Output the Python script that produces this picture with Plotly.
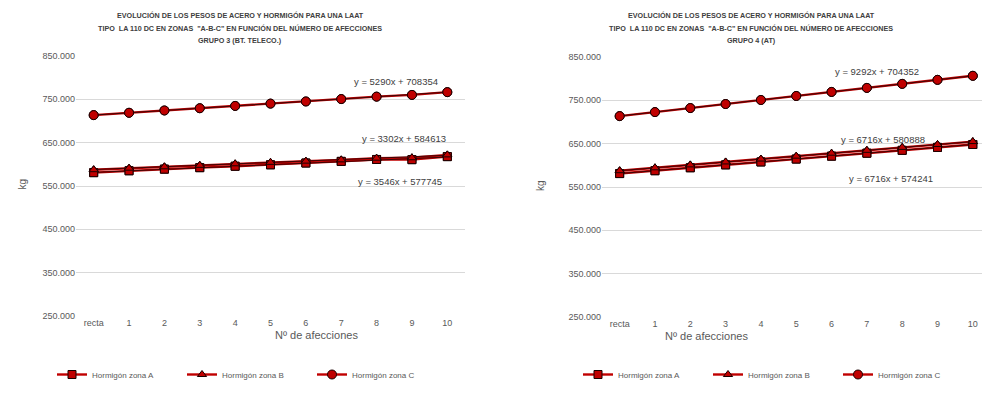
import plotly.graph_objects as go

categories = ["recta", "1", "2", "3", "4", "5", "6", "7", "8", "9", "10"]
y_ticks = [250000, 350000, 450000, 550000, 650000, 750000, 850000]

# Grupo 3 (BT. TELECO.)
g3_zona_a = [580800, 585200, 588900, 592300, 595600, 598900, 603000, 606800, 611200, 610800, 617800]
g3_zona_b = [587600, 591100, 594300, 597700, 601200, 604600, 607400, 610300, 614200, 615200, 621800]
g3_zona_c = [713600, 719000, 724300, 729500, 734800, 740100, 745100, 750600, 756200, 760200, 766600]
# Grupo 4 (AT)
g4_zona_a = [581000, 587600, 594400, 601100, 607800, 614500, 621200, 628000, 634600, 641400, 648100]
g4_zona_b = [587600, 594300, 601000, 607800, 614500, 621200, 628000, 634600, 641400, 648100, 654800]
g4_zona_c = [713600, 722900, 732200, 741500, 750800, 760100, 769400, 778700, 788000, 797300, 806600]

# trend line coefficients (slope, intercept) as printed on the chart
g3_trend = {"A": (3546, 577745), "B": (3302, 584613), "C": (5290, 708354)}
g4_trend = {"A": (6716, 574241), "B": (6716, 580888), "C": (9292, 704352)}

series_names = {"A": "Hormigón zona A", "B": "Hormigón zona B", "C": "Hormigón zona C"}
symbols = {"A": "square", "B": "triangle-up", "C": "circle"}
msizes = {"A": 8, "B": 8, "C": 9}

RED = "#c00000"
DARK = "#3a0606"
GRAY = "#595959"
FONT = "Liberation Sans"

fig = go.Figure()

def add_group(data, trend, xa, ya, legend):
    for key in ["A", "B", "C"]:
        fig.add_trace(go.Scatter(
            x=categories, y=data[key], mode="lines+markers", name=series_names[key],
            line=dict(color=RED, width=2.4),
            marker=dict(symbol=symbols[key], size=msizes[key], color=RED,
                        line=dict(color="#1a0000", width=1)),
            xaxis=xa, yaxis=ya, legend=legend))
    for key in ["A", "B", "C"]:
        m, b = trend[key]
        xs = list(range(1, len(categories) + 1))
        fig.add_trace(go.Scatter(
            x=categories, y=[m * x + b for x in xs], mode="lines",
            line=dict(color=DARK, width=1), showlegend=False, hoverinfo="skip",
            xaxis=xa, yaxis=ya))
    for key in ["A", "B", "C"]:
        fig.add_trace(go.Scatter(
            x=categories, y=data[key], mode="markers", showlegend=False, hoverinfo="skip",
            marker=dict(symbol=symbols[key], size=msizes[key], color=RED,
                        line=dict(color="#1a0000", width=1)),
            xaxis=xa, yaxis=ya))

add_group({"A": g3_zona_a, "B": g3_zona_b, "C": g3_zona_c}, g3_trend, "x", "y", "legend")
add_group({"A": g4_zona_a, "B": g4_zona_b, "C": g4_zona_c}, g4_trend, "x2", "y2", "legend2")

W, H = 982, 412
def px(x): return x / W
def py(y): return 1 - y / H

xcommon = dict(type="category", showgrid=False, zeroline=False, showline=False, ticks="",
               tickfont=dict(family=FONT, size=9, color=GRAY))
ycommon = dict(range=[250000, 850000], tickvals=y_ticks, tickformat=",.0f",
               showgrid=True, gridcolor="#d9d9d9", gridwidth=1, zeroline=False,
               showline=False, ticks="", tickfont=dict(family=FONT, size=9, color=GRAY))

legend_common = dict(orientation="h", xanchor="left", yanchor="top",
                     entrywidth=85, entrywidthmode="pixels", bgcolor="rgba(0,0,0,0)",
                     font=dict(family=FONT, size=8, color=GRAY), itemclick=False,
                     tracegroupgap=0)

fig.update_layout(
    width=W, height=H, margin=dict(l=0, r=0, t=0, b=0, autoexpand=False),
    paper_bgcolor="white", plot_bgcolor="white", separators=",.",
    xaxis=dict(domain=[px(76), px(465)], range=[-0.5, 10.5], anchor="y", **xcommon),
    yaxis=dict(domain=[py(316), py(56)], anchor="x", **ycommon),
    xaxis2=dict(domain=[px(602), 1.0], range=[-0.5, 10.26], anchor="y2", **xcommon),
    yaxis2=dict(domain=[py(317), py(57)], anchor="x2", **ycommon),
    legend=dict(x=px(52), y=py(360), **legend_common),
    legend2=dict(x=px(578), y=py(360), **legend_common),
    showlegend=True,
)

anns = []
title_lines_3 = ["EVOLUCIÓN DE LOS PESOS DE ACERO Y HORMIGÓN PARA UNA LAAT",
                 "TIPO  LA 110 DC EN ZONAS  \"A-B-C\" EN FUNCIÓN DEL NÚMERO DE AFECCIONES",
                 "GRUPO 3 (BT. TELECO.)"]
title_lines_4 = ["EVOLUCIÓN DE LOS PESOS DE ACERO Y HORMIGÓN PARA UNA LAAT",
                 "TIPO  LA 110 DC EN ZONAS  \"A-B-C\" EN FUNCIÓN DEL NÚMERO DE AFECCIONES",
                 "GRUPO 4 (AT)"]
for cx, lines in [(240, title_lines_3), (751, title_lines_4)]:
    for i, t in enumerate(lines):
        anns.append(dict(x=px(cx), y=py(16 + i * 12.5), xref="paper", yref="paper",
                         text="<b>" + t + "</b>", showarrow=False,
                         font=dict(family=FONT, size=7.2, color="#404040"),
                         xanchor="center", yanchor="middle"))

for cx, cy in [(14, 184), (540, 186)]:
    anns.append(dict(x=px(cx), y=py(cy), xref="paper", yref="paper", text="kg",
                     textangle=-90, showarrow=False,
                     font=dict(family=FONT, size=10, color=GRAY)))
for cx, cy in [(273, 343), (750, 344)]:
    anns.append(dict(x=px(cx), y=py(cy), xref="paper", yref="paper", text="Nº de afecciones",
                     showarrow=False, font=dict(family=FONT, size=11, color=GRAY)))

eqs = [
    (g3_trend["C"], 396, 74), (g3_trend["B"], 404, 138), (g3_trend["A"], 400, 181),
    (g4_trend["C"], 921, 64), (g4_trend["B"], 927, 132), (g4_trend["A"], 935, 179),
]
for (m, b), cx, cy in eqs:
    anns.append(dict(x=px(cx), y=py(cy), xref="paper", yref="paper",
                     text=f"y = {m}x + {b}", showarrow=False,
                     font=dict(family=FONT, size=9.5, color="#404040")))

fig.update_layout(annotations=anns)
fig.write_html("out.html", config={"displayModeBar": False},
               post_script="document.body.style.margin='0';document.body.style.overflow='hidden';")
